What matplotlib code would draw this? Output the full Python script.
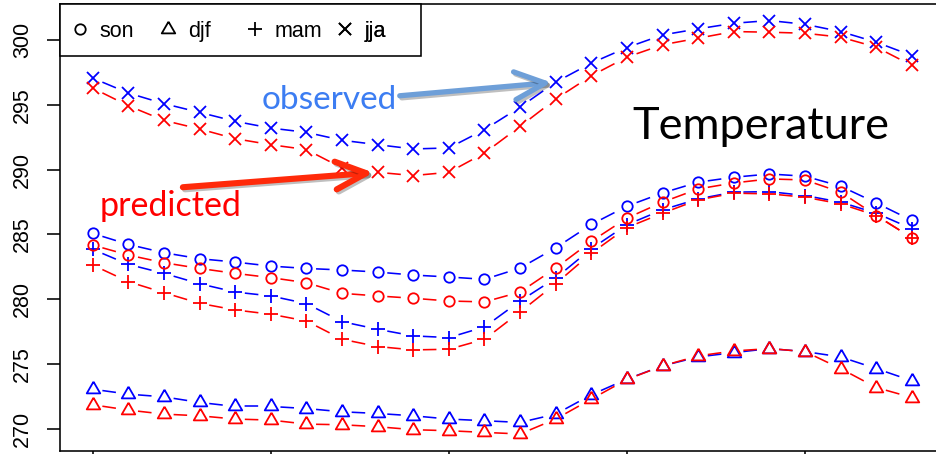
import numpy as np
import matplotlib
matplotlib.use("Agg")
import matplotlib.pyplot as plt
from matplotlib.patches import Rectangle
from matplotlib.lines import Line2D
import matplotlib.patheffects as pe

# ---------------- data ----------------
hours = list(range(24))
seasons = ["son", "djf", "mam", "jja"]

son_obs = [285.08, 284.23, 283.59, 283.13, 282.87, 282.56, 282.38, 282.26, 282.10, 281.87, 281.72, 281.54,
           282.41, 283.97, 285.77, 287.18, 288.20, 289.03, 289.41, 289.66, 289.49, 288.72, 287.43, 286.08]
son_pred = [284.18, 283.41, 282.82, 282.38, 282.00, 281.67, 281.28, 280.46, 280.26, 280.08, 279.87, 279.80,
            280.56, 282.41, 284.47, 286.26, 287.49, 288.51, 288.97, 289.28, 289.20, 288.26, 286.46, 284.74]
djf_obs = [273.07, 272.69, 272.48, 272.05, 271.74, 271.74, 271.58, 271.33, 271.20, 271.02, 270.77, 270.64,
           270.51, 271.15, 272.64, 273.85, 274.87, 275.56, 275.89, 276.20, 275.97, 275.56, 274.66, 273.72]
djf_pred = [271.87, 271.46, 271.15, 271.02, 270.77, 270.69, 270.38, 270.33, 270.18, 269.95, 269.87, 269.74,
            269.62, 270.77, 272.31, 273.82, 274.87, 275.64, 276.02, 276.20, 275.97, 274.66, 273.20, 272.43]
mam_obs = [283.85, 282.69, 282.00, 281.20, 280.56, 280.26, 279.67, 278.28, 277.69, 277.18, 277.05, 277.87,
           279.87, 281.64, 283.90, 285.75, 286.90, 287.74, 288.26, 288.30, 288.00, 287.49, 286.64, 285.44]
mam_pred = [282.64, 281.36, 280.51, 279.69, 279.18, 278.85, 278.33, 276.92, 276.36, 276.10, 276.15, 276.92,
            279.03, 281.20, 283.55, 285.53, 286.64, 287.67, 288.18, 288.13, 287.87, 287.36, 286.46, 284.74]
jja_obs = [297.05, 295.90, 295.08, 294.41, 293.72, 293.20, 292.87, 292.26, 291.92, 291.59, 291.67, 293.08,
           294.82, 296.74, 298.21, 299.41, 300.38, 300.85, 301.28, 301.49, 301.20, 300.64, 299.82, 298.79]
jja_pred = [296.28, 294.92, 293.79, 293.13, 292.38, 291.92, 291.54, 290.13, 289.79, 289.54, 289.79, 291.28,
            293.33, 295.44, 297.23, 298.67, 299.62, 300.13, 300.64, 300.59, 300.51, 300.21, 299.44, 298.03]

yticks = [270, 275, 280, 285, 290, 295, 300]
xticks = [0, 5, 10, 15, 20]

# ---------------- style ----------------
plt.rcParams['font.family'] = ['Liberation Sans', 'DejaVu Sans']
plt.rcParams['lines.scale_dashes'] = False
DPI = 100
OBS_C = "#0000FF"
PRED_C = "#FF0000"
LW = 1.15
MEW = 1.3

tri = [(0.0, 1.0), (-0.866, -0.5), (0.866, -0.5), (0.0, 1.0)]
marker_style = {
    "son": dict(marker="o", ms=7.5),
    "djf": dict(marker=tri, ms=11.2),
    "mam": dict(marker="+", ms=10.2),
    "jja": dict(marker="x", ms=8.2),
}

fig = plt.figure(figsize=(9.36, 4.54), dpi=DPI)
ax = fig.add_axes([0.0641, 0.0077, 0.9451, 0.9835])

allv = np.concatenate([son_obs, son_pred, djf_obs, djf_pred, mam_obs, mam_pred, jja_obs, jja_pred])
xr = max(hours) - min(hours)
yr = allv.max() - allv.min()
ax.set_xlim(min(hours) - 0.04 * xr, max(hours) + 0.04 * xr)
ax.set_ylim(allv.min() - 0.04 * yr, allv.max() + 0.04 * yr)

series = [
    ("son", son_obs, OBS_C), ("djf", djf_obs, OBS_C), ("mam", mam_obs, OBS_C), ("jja", jja_obs, OBS_C),
    ("son", son_pred, PRED_C), ("djf", djf_pred, PRED_C), ("mam", mam_pred, PRED_C), ("jja", jja_pred, PRED_C),
]

for z, (s, vals, col) in enumerate(series):
    # points
    ax.plot(hours, vals, linestyle="none", color=col, mfc="none", mec=col, mew=MEW,
            zorder=3 + z * 0.01, **marker_style[s])
    # dashed connectors with gaps around points (R type="b", lty=2)
    pts = ax.transData.transform(np.column_stack([hours, vals]))
    for i in range(len(hours) - 1):
        L = np.hypot(*(pts[i + 1] - pts[i])) * 72.0 / DPI
        gap = 0.27 * L
        on = 0.38 * L
        off = 2.0 * L
        ax.plot(hours[i:i + 2], vals[i:i + 2], color=col, lw=LW,
                linestyle=(on + off - gap, (on, off)), dash_capstyle="butt",
                zorder=2 + z * 0.01)

# axes / ticks
for sp in ax.spines.values():
    sp.set_linewidth(LW)
ax.set_yticks(yticks)
ax.set_xticks(xticks)
ax.tick_params(axis="both", direction="out", length=9.4, width=LW, color="black")
ax.tick_params(axis="y", labelrotation=90, labelsize=15.5, pad=10.0)
ax.tick_params(axis="x", labelbottom=False)
for lab in ax.get_yticklabels():
    lab.set_verticalalignment("center")

# legend box
ax.add_patch(Rectangle((0, 0.8835), 0.408, 0.1165, transform=ax.transAxes, facecolor="white",
                       edgecolor="black", lw=LW, zorder=10, clip_on=False))
leg_x = [0.0109, 0.1103, 0.2087, 0.3104]
for s, lx in zip(seasons, leg_x):
    h = Line2D([], [], linestyle="none", color="black", mfc="none", mec="black", mew=MEW,
               **marker_style[s])
    lg = ax.legend([h], [s], loc="center left", bbox_to_anchor=(lx, 0.9395), frameon=False,
                   fontsize=15.5, handlelength=1.0, handletextpad=0.4, borderpad=0,
                   borderaxespad=0, numpoints=1)
    lg.set_zorder(11)
    ax.add_artist(lg)

# annotations
ax.text(4.73, 294.67, "observed", color="#3C7DF2", fontsize=24, family="Lato",
        ha="left", va="baseline", zorder=12)
ax.text(0.2, 286.46, "predicted", color="#FF0000", fontsize=24.5, family="Lato",
        ha="left", va="baseline", zorder=12)
ax.text(15.15, 292.38, "Temperature", color="black", fontsize=32.5, family="Lato",
        ha="left", va="baseline", zorder=12)

shadow = [pe.SimpleLineShadow(offset=(1.5, -1.5), shadow_color="black", alpha=0.25), pe.Normal()]
ax.annotate("", xy=(13, jja_obs[13]), xytext=(8.62, 295.69),
            arrowprops=dict(arrowstyle="->,head_length=2.2,head_width=1.0", color="#6E9FD8",
                            lw=3.8, shrinkA=0, shrinkB=3, mutation_scale=10,
                            path_effects=shadow), zorder=12)
ax.annotate("", xy=(8, jja_pred[8]), xytext=(2.53, 288.64),
            arrowprops=dict(arrowstyle="->,head_length=2.2,head_width=1.0", color="#FF2A0A",
                            lw=4.4, shrinkA=0, shrinkB=3, mutation_scale=10,
                            path_effects=shadow), zorder=12)

fig.savefig("out.png", dpi=DPI)
